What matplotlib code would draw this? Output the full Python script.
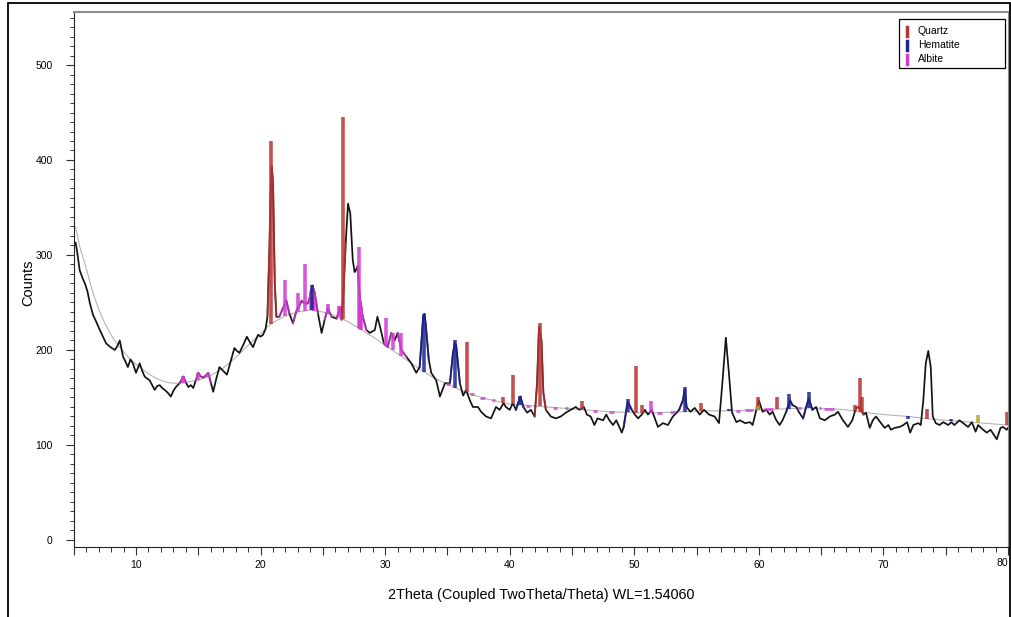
import numpy as np
import matplotlib
matplotlib.use("Agg")
import matplotlib.pyplot as plt
from matplotlib.lines import Line2D
from matplotlib.patches import Rectangle
from matplotlib.ticker import MultipleLocator, FuncFormatter

plt.rcParams['font.family'] = ['Liberation Sans', 'DejaVu Sans']

two_theta = np.array([
    5.15, 5.26, 5.48, 5.7, 5.9, 6.1, 6.3, 6.55, 6.8, 7.1, 7.35, 7.6, 7.95, 8.3, 8.5, 8.7,
    8.96, 9.15, 9.35, 9.55, 9.75, 10.0, 10.3, 10.5, 10.7, 10.9, 11.1, 11.3, 11.5, 11.7,
    11.9, 12.1, 12.3, 12.55, 12.8, 13.0, 13.2, 13.5, 13.8, 14.0, 14.2, 14.4, 14.6, 14.8,
    15.0, 15.2, 15.4, 15.6, 15.8, 16.0, 16.2, 16.45, 16.7, 17.0, 17.3, 17.6, 17.9, 18.1,
    18.3, 18.6, 18.9, 19.15, 19.4, 19.6, 19.8, 20.0, 20.2, 20.4, 20.55, 20.7, 20.8, 20.9,
    21.0, 21.14, 21.27, 21.5, 21.8, 22.07, 22.3, 22.6, 22.9, 23.1, 23.3, 23.5, 23.8, 24.0,
    24.15, 24.35, 24.6, 24.9, 25.15, 25.4, 25.7, 26.1, 26.37, 26.5, 26.65, 26.83, 27.02,
    27.2, 27.4, 27.55, 27.65, 27.78, 27.96, 28.2, 28.5, 28.77, 29.17, 29.38, 29.6, 29.9,
    30.2, 30.5, 30.77, 31.0, 31.3, 31.7, 32.1, 32.5, 32.77, 32.95, 33.05, 33.15, 33.25,
    33.5, 33.7, 34.1, 34.4, 34.8, 35.2, 35.45, 35.6, 35.7, 35.85, 36.0, 36.26, 36.5, 36.8,
    37.05, 37.45, 37.7, 38.1, 38.5, 38.9, 39.2, 39.5, 39.7, 40.0, 40.25, 40.5, 40.85,
    41.1, 41.4, 41.7, 42.0, 42.2, 42.35, 42.55, 42.7, 42.9, 43.3, 43.7, 44.1, 44.5, 44.9,
    45.3, 45.6, 45.95, 46.2, 46.5, 46.8, 47.05, 47.5, 47.75, 48.0, 48.3, 48.55, 48.8,
    49.0, 49.15, 49.4, 49.5, 49.8, 50.05, 50.3, 50.6, 50.85, 51.1, 51.4, 51.65, 51.9,
    52.3, 52.7, 53.1, 53.4, 53.6, 53.9, 54.05, 54.2, 54.5, 54.85, 55.25, 55.6, 56.0,
    56.45, 56.8, 57.07, 57.35, 57.6, 57.85, 58.2, 58.47, 58.9, 59.3, 59.5, 59.8, 60.0,
    60.3, 60.6, 60.87, 61.1, 61.4, 61.67, 61.9, 62.2, 62.5, 62.7, 63.0, 63.2, 63.55,
    63.8, 64.0, 64.3, 64.6, 64.9, 65.3, 65.7, 66.1, 66.35, 66.75, 67.15, 67.5, 67.8,
    68.1, 68.4, 68.6, 68.9, 69.15, 69.4, 69.75, 70.1, 70.4, 70.6, 70.9, 71.3, 71.6,
    71.9, 72.15, 72.4, 72.8, 73.0, 73.2, 73.4, 73.6, 73.8, 73.96, 74.2, 74.5, 74.8,
    75.2, 75.45, 75.7, 76.1, 76.4, 76.8, 77.1, 77.4, 77.6, 78.0, 78.3, 78.6, 78.9,
    79.1, 79.4, 79.6, 79.9, 80.0])
counts = np.array([
    313, 305, 284, 276, 270, 262, 249, 237, 230, 221, 214, 207, 203, 200, 204, 210,
    193, 188, 182, 190, 186, 176, 186, 178, 172, 170, 168, 163, 158, 162,
    163, 160, 158, 155, 151, 157, 161, 165, 172, 166, 161, 163, 160, 168,
    176, 172, 171, 173, 176, 166, 156, 170, 182, 178, 174, 188, 202, 199,
    197, 205, 214, 208, 203, 210, 216, 214, 216, 222, 235, 300, 360, 393,
    376, 270, 235, 235, 244, 252, 239, 228, 242, 246, 252, 249, 249, 258,
    268, 260, 239, 218, 232, 244, 235, 233, 245, 232, 260, 312, 354,
    344, 295, 282, 284, 288, 256, 235, 221, 218, 221, 235, 224, 207,
    203, 218, 210, 218, 200, 193, 186, 176, 182, 215, 235, 238, 228,
    190, 176, 168, 151, 165, 165, 197, 207, 205, 185, 165, 152, 158, 147,
    140, 140, 135, 130, 128, 140, 137, 144, 140, 137, 144, 137, 151,
    140, 134, 137, 130, 165, 224, 210, 155, 137, 130, 128, 130, 134, 137,
    140, 137, 140, 132, 130, 121, 128, 126, 132, 126, 121, 126, 119,
    113, 119, 140, 145, 137, 132, 128, 132, 137, 132, 137, 128, 119,
    123, 121, 130, 134, 137, 147, 158, 140, 135, 139, 132, 137, 132,
    130, 123, 165, 213, 175, 134, 124, 126, 123, 124, 121, 137, 147,
    135, 137, 132, 135, 126, 121, 126, 135, 147, 142, 140, 135, 128,
    140, 149, 137, 140, 128, 126, 130, 132, 135, 126, 119, 126, 139,
    140, 132, 134, 118, 126, 130, 124, 118, 121, 116, 118, 119, 121,
    124, 113, 121, 123, 121, 147, 186, 199, 182, 130, 123, 121, 124,
    121, 124, 121, 126, 123, 119, 124, 114, 121, 116, 113, 116, 110,
    106, 118, 119, 116, 118])

# fitted background (thin grey)
bg_theta = [5.15, 5.5, 6, 6.5, 7, 7.5, 8, 8.5, 9, 9.5, 10, 10.5, 11, 11.5, 12, 12.5,
            13, 13.5, 14, 15, 16, 17, 18, 19, 20, 20.5, 21, 22, 23, 24, 25, 26, 27,
            28, 29, 30, 31, 32, 33, 34, 35, 36, 37, 38, 39, 40, 42, 44, 46, 48, 50,
            52, 54, 56, 58, 60, 62, 64, 66, 67, 68, 70, 72, 74, 76, 78, 80]
bg_counts = [330, 308, 286, 262, 243, 228, 216, 206, 198, 191, 185, 180, 175, 171, 168, 166,
             165, 165, 166, 168, 173, 181, 192, 205, 217, 224, 229, 236, 240, 242, 240, 236, 230,
             222, 214, 205, 196, 187, 178, 170, 164, 158, 153, 149, 146, 143, 141, 139, 137, 135, 134,
             134, 135, 136, 136, 137, 138, 139, 138, 137, 135, 132, 130, 127, 125, 123, 121]

# reference sticks
quartz_pos = [20.86, 26.64, 36.54, 39.47, 40.29, 42.45, 45.79, 50.14, 50.62, 55.33,
              59.96, 61.45, 67.74, 68.14, 68.32, 73.47, 79.88]
quartz_top = [420, 445, 208, 150, 174, 228, 146, 183, 142, 144,
              150, 150, 142, 170, 150, 138, 135]
hematite_pos = [24.14, 33.15, 35.61, 40.85, 49.48, 54.09, 57.59, 62.45, 64.02, 71.94, 75.43]
hematite_top = [268, 238, 210, 152, 148, 161, 138, 154, 156, 127, 127]
albite_pos = [13.8, 15.0, 15.75, 21.95, 23.0, 23.55, 24.05, 24.25, 25.45, 26.3,
              27.88, 27.95, 28.02, 28.1, 30.05, 30.6, 31.25, 51.35]
albite_top = [173, 176, 176, 274, 260, 290, 262, 258, 248, 246,
              308, 252, 250, 246, 234, 218, 218, 146]
other_pos = [59.85, 77.62]
other_top = [141, 132]

# albite reflections lying on the background (short dashes)
albite_bg = [(34.9, 35.2), (36.8, 37.1), (37.6, 38.0), (38.6, 38.8), (41.3, 41.6),
             (43.5, 43.8), (44.4, 44.7), (46.7, 47.0), (48.0, 48.4), (51.8, 52.2),
             (52.9, 53.3), (58.2, 58.5), (58.9, 59.5), (60.4, 61.1), (63.1, 63.4),
             (64.8, 65.0), (65.2, 66.0)]

# parts of the scan coloured by phase
quartz_hl = [(20.6, 21.2), (26.45, 26.7), (42.15, 42.75), (68.0, 68.3)]
hematite_hl = [(32.9, 33.4), (35.35, 35.9), (40.7, 41.0), (49.3, 49.7),
               (53.9, 54.2), (62.3, 62.6), (63.8, 64.1)]
albite_hl = [(13.6, 13.95), (14.9, 15.9), (21.7, 22.2), (22.8, 24.4), (25.2, 25.7),
             (26.2, 26.4), (27.85, 28.3), (30.0, 30.7), (31.1, 31.4)]

phases = ['Quartz', 'Hematite', 'Albite']
c_quartz = '#b83232'
c_hem = '#1e2392'
c_alb = '#d23cd2'
c_other = '#b8a030'

W, H = 1011, 617
fig = plt.figure(figsize=(W / 100, H / 100), dpi=100)
ax = fig.add_axes([73.7 / W, 1 - 547 / H, (1008 - 73.7) / W, (547 - 12) / H])

ax.plot(bg_theta, bg_counts, color='#b4b4b4', lw=0.8, zorder=1)
ax.plot(two_theta, counts, color='#141414', lw=1.25, zorder=2)


def seg(lo, hi):
    i0 = max(np.searchsorted(two_theta, lo) - 1, 0)
    i1 = min(np.searchsorted(two_theta, hi) + 1, len(two_theta))
    return two_theta[i0:i1], counts[i0:i1]


for hl, c in ((quartz_hl, c_quartz), (hematite_hl, c_hem), (albite_hl, c_alb)):
    for lo, hi in hl:
        xs, ys = seg(lo, hi)
        ax.plot(xs, ys, color=c, lw=1.4, alpha=0.75, zorder=3)

for lo, hi in albite_bg:
    yb = np.interp((lo + hi) / 2, bg_theta, bg_counts)
    ax.hlines(yb, lo, hi, colors=c_alb, lw=2.0, alpha=0.8, zorder=3)

for pos, top, c in ((albite_pos, albite_top, c_alb), (hematite_pos, hematite_top, c_hem),
                    (quartz_pos, quartz_top, c_quartz), (other_pos, other_top, c_other)):
    base = np.interp(pos, bg_theta, bg_counts)
    ax.vlines(pos, base, top, colors=c, lw=2.6, alpha=0.85, zorder=4)

ax.set_xlim(5, 80)
ax.set_ylim(-7.4, 555.8)

# labels every 10 degrees; the last one (80) is placed by hand so it stays inside the frame
ax.xaxis.set_major_locator(MultipleLocator(5))
ax.xaxis.set_minor_locator(MultipleLocator(1))
ax.xaxis.set_major_formatter(FuncFormatter(
    lambda v, p: '%d' % v if int(round(v)) % 10 == 0 and v < 79 else ''))
ax.yaxis.set_major_locator(MultipleLocator(100))
ax.yaxis.set_minor_locator(MultipleLocator(10))
ax.tick_params(axis='x', which='major', length=6, width=0.8, pad=3, labelsize=7.5, color='#333333')
ax.tick_params(axis='x', which='minor', length=3.5, width=0.7, color='#333333')
ax.tick_params(axis='y', which='major', length=6, width=0.8, pad=9, labelsize=7.5, color='#333333')
ax.tick_params(axis='y', which='minor', length=3, width=0.7, color='#333333')
ax.text(1.0, -0.0, '80', transform=ax.transAxes, ha='right', va='top', fontsize=7.5,
        color=ax.xaxis.get_ticklabels()[0].get_color())
ax.texts[-1].set_position((1.0, -(563 - 547 - 5) / (547 - 12)))

ax.spines['left'].set_color('#222222')
ax.spines['bottom'].set_color('#222222')
ax.spines['top'].set_color('#8c8c8c')
ax.spines['top'].set_linewidth(1.5)
ax.spines['right'].set_color('#8c8c8c')

fig.text(28 / W, 1 - 283 / H, 'Counts', rotation=90, ha='center', va='center', fontsize=10.5)
fig.text(541 / W, 1 - 595 / H, '2Theta (Coupled TwoTheta/Theta) WL=1.54060',
         ha='center', va='center', fontsize=10.4)

# legend box drawn by hand: wide frame with the entries on its left side
fig.add_artist(Rectangle((899 / W, 1 - 68 / H), 106 / W, 49 / H, transform=fig.transFigure,
                         fc='white', ec='black', lw=0.9, zorder=5))
for i, (name, c) in enumerate(zip(phases, (c_quartz, c_hem, c_alb))):
    yc = 1 - (31 + 14 * i) / H
    fig.add_artist(Line2D([907 / W, 907 / W], [yc - 4.5 / H, yc + 4.5 / H],
                          transform=fig.transFigure, color=c, lw=2.5, zorder=6))
    fig.text(918 / W, yc, name, ha='left', va='center', fontsize=7.5, zorder=6)

fig.add_artist(Rectangle((7.5 / W, -0.1), (1009.5 - 7.5) / W, 1.1 - 3 / H,
                         transform=fig.transFigure, fill=False, ec='black', lw=1.3))

fig.savefig('out.png', dpi=100)
